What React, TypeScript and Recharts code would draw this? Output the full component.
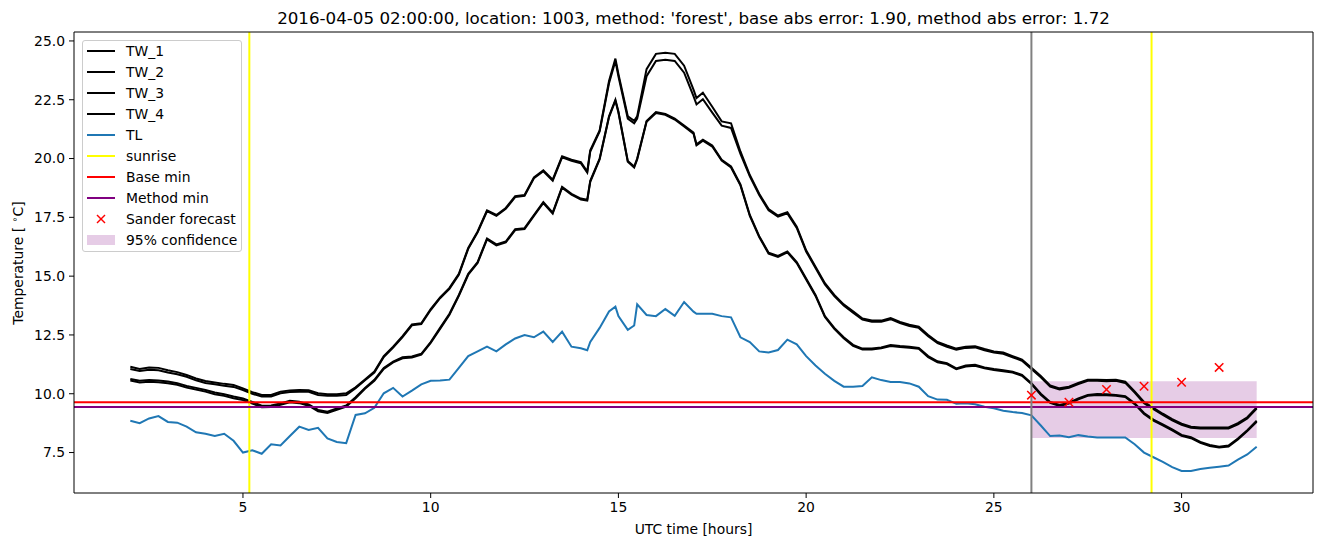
import React from 'react';
import { ComposedChart, Line, Scatter, XAxis, YAxis, ReferenceLine, ReferenceArea } from 'recharts';

const hours = [
  2, 2.25, 2.5, 2.75, 3, 3.25, 3.5, 3.75, 4, 4.25, 4.5, 4.75,
  5, 5.25, 5.5, 5.75, 6, 6.25, 6.5, 6.75, 7, 7.25, 7.5, 7.75,
  8, 8.25, 8.5, 8.75, 9, 9.25, 9.5, 9.75, 10, 10.25, 10.5, 10.75,
  11, 11.25, 11.5, 11.75, 12, 12.25, 12.5, 12.75, 13, 13.25, 13.5, 13.75,
  14, 14.17, 14.25, 14.5, 14.75, 14.92, 15, 15.25, 15.42, 15.5, 15.75,
  16, 16.25, 16.5, 16.75, 17, 17.08, 17.25, 17.5, 17.75,
  18, 18.25, 18.5, 18.75, 19, 19.25, 19.5, 19.75,
  20, 20.25, 20.5, 20.75, 21, 21.25, 21.5, 21.75,
  22, 22.25, 22.5, 22.75, 23, 23.25, 23.5, 23.75,
  24, 24.25, 24.5, 24.75, 25, 25.25, 25.5, 25.75,
  26, 26.25, 26.5, 26.75, 27, 27.25, 27.5, 27.75,
  28, 28.25, 28.5, 28.75, 29, 29.25, 29.5, 29.75,
  30, 30.25, 30.5, 30.75, 31, 31.25, 31.5, 31.75, 32,
];

const tw1 = [
  11.15, 11.05, 11.12, 11.1, 11.0, 10.92, 10.8, 10.65, 10.54, 10.48, 10.42, 10.37,
  10.23, 10.07, 9.95, 9.95, 10.09, 10.14, 10.16, 10.15, 10.02, 9.98, 9.98, 10.02,
  10.27, 10.6, 10.94, 11.6, 12.0, 12.45, 12.95, 13.0, 13.6, 14.1, 14.5, 15.1,
  16.2, 16.9, 17.8, 17.6, 17.9, 18.4, 18.45, 19.2, 19.5, 19.1, 20.1, 19.95,
  19.85, 19.45, 20.35, 21.2, 23.3, 24.25, 23.6, 21.8, 21.6, 21.8, 23.8,
  24.45, 24.5, 24.45, 23.95, 22.93, 22.57, 22.8, 22.2, 21.58,
  21.5, 20.3, 19.3, 18.5, 17.85, 17.58, 17.72, 17.1,
  16.1, 15.4, 14.7, 14.2, 13.8, 13.5, 13.2, 13.11,
  13.11, 13.22, 13.05, 12.93, 12.85, 12.5, 12.2, 12.05,
  11.92, 12.0, 12.02, 11.9, 11.8, 11.75, 11.6, 11.45,
  11.1, 10.75, 10.35, 10.23, 10.3, 10.46, 10.6, 10.6,
  10.58, 10.6, 10.51, 10.1, 9.65, 9.4, 9.15, 8.92,
  8.73, 8.6, 8.57, 8.57, 8.57, 8.57, 8.75, 9.0, 9.42,
];

const tw2 = [
  11.05, 10.97, 11.02, 11.0, 10.9, 10.83, 10.72, 10.57, 10.46, 10.4, 10.34, 10.29,
  10.16, 10.0, 9.88, 9.88, 10.02, 10.07, 10.09, 10.08, 9.95, 9.91, 9.91, 9.95,
  10.24, 10.57, 10.9, 11.56, 11.96, 12.41, 12.91, 12.96, 13.56, 14.06, 14.46, 15.06,
  16.16, 16.86, 17.76, 17.56, 17.86, 18.36, 18.41, 19.16, 19.46, 19.06, 20.05, 19.9,
  19.8, 19.4, 20.3, 21.15, 23.2, 24.15, 23.5, 21.7, 21.5, 21.7, 23.5,
  24.15, 24.2, 24.15, 23.65, 22.65, 22.3, 22.52, 21.95, 21.4,
  21.3, 20.2, 19.24, 18.45, 17.8, 17.53, 17.67, 17.05,
  16.05, 15.35, 14.65, 14.15, 13.75, 13.45, 13.15, 13.06,
  13.06, 13.17, 13.0, 12.88, 12.8, 12.45, 12.15, 12.0,
  11.87, 11.95, 11.97, 11.85, 11.75, 11.7, 11.55, 11.4,
  11.05, 10.7, 10.3, 10.18, 10.25, 10.41, 10.55, 10.55,
  10.53, 10.55, 10.46, 10.05, 9.6, 9.35, 9.1, 8.87,
  8.68, 8.55, 8.52, 8.52, 8.52, 8.52, 8.7, 8.95, 9.37,
];

const tw3 = [
  10.63, 10.55, 10.58, 10.56, 10.52, 10.45, 10.33, 10.25, 10.16, 10.05, 9.98, 9.88,
  9.8, 9.65, 9.49, 9.5, 9.59, 9.7, 9.66, 9.55, 9.31, 9.24, 9.38, 9.5,
  9.85, 10.25, 10.59, 11.1, 11.37, 11.55, 11.58, 11.7, 12.2, 12.8, 13.4, 14.2,
  15.1, 15.6, 16.6, 16.35, 16.47, 17.0, 17.04, 17.6, 18.15, 17.7, 18.8, 18.5,
  18.3, 18.25, 19.05, 20.0, 21.8, 22.5, 22.0, 19.9, 19.66, 20.0, 21.6,
  21.98, 21.9, 21.7, 21.4, 21.1, 20.6, 20.8, 20.55, 19.95,
  19.66, 18.9, 17.6, 16.7, 16.0, 15.86, 16.05, 15.6,
  14.9, 14.2, 13.3, 12.8, 12.4, 12.08, 11.92, 11.92,
  11.97, 12.07, 12.03, 12.0, 11.95, 11.6, 11.38, 11.3,
  11.08, 11.2, 11.23, 11.12, 11.05, 11.0, 10.94, 10.8,
  10.45, 10.0, 9.65, 9.52, 9.62, 9.8, 9.95, 9.99,
  9.98, 9.95, 9.9, 9.6, 9.18, 8.9, 8.7, 8.48,
  8.25, 8.15, 7.95, 7.82, 7.75, 7.8, 8.1, 8.45, 8.85,
];

const tw4 = [
  10.56, 10.48, 10.51, 10.49, 10.45, 10.38, 10.26, 10.18, 10.09, 9.98, 9.91, 9.81,
  9.73, 9.58, 9.43, 9.44, 9.53, 9.64, 9.6, 9.49, 9.25, 9.18, 9.32, 9.45,
  9.81, 10.21, 10.55, 11.06, 11.33, 11.51, 11.54, 11.66, 12.16, 12.76, 13.36, 14.16,
  15.06, 15.56, 16.56, 16.31, 16.43, 16.96, 17.0, 17.56, 18.11, 17.66, 18.76, 18.46,
  18.26, 18.21, 19.01, 19.96, 21.76, 22.46, 21.96, 19.86, 19.62, 19.96, 21.56,
  21.94, 21.86, 21.66, 21.36, 21.06, 20.56, 20.76, 20.51, 19.91,
  19.62, 18.86, 17.56, 16.66, 15.96, 15.82, 16.01, 15.56,
  14.86, 14.16, 13.26, 12.76, 12.36, 12.04, 11.88, 11.88,
  11.93, 12.03, 11.99, 11.96, 11.91, 11.56, 11.34, 11.26,
  11.04, 11.16, 11.19, 11.08, 11.01, 10.96, 10.9, 10.76,
  10.41, 9.96, 9.61, 9.48, 9.58, 9.76, 9.91, 9.95,
  9.94, 9.91, 9.86, 9.56, 9.14, 8.86, 8.66, 8.44,
  8.21, 8.11, 7.91, 7.78, 7.71, 7.76, 8.06, 8.41, 8.81,
];

const tl = [
  8.85, 8.75, 8.95, 9.05, 8.8, 8.77, 8.6, 8.36, 8.3, 8.2, 8.3, 8.0,
  7.5, 7.6, 7.45, 7.85, 7.8, 8.2, 8.6, 8.46, 8.55, 8.1, 7.95, 7.9,
  9.1, 9.17, 9.4, 10.02, 10.25, 9.88, 10.13, 10.4, 10.55, 10.56, 10.6, 11.1,
  11.6, 11.8, 12.0, 11.8, 12.1, 12.35, 12.5, 12.4, 12.64, 12.2, 12.64, 12.0,
  11.93, 11.85, 12.2, 12.8, 13.5, 13.7, 13.3, 12.72, 12.9, 13.8, 13.35,
  13.3, 13.6, 13.31, 13.9, 13.49, 13.4, 13.4, 13.4, 13.3,
  13.25, 12.4, 12.2, 11.8, 11.75, 11.86, 12.3, 12.1,
  11.6, 11.2, 10.85, 10.55, 10.3, 10.3, 10.33, 10.7,
  10.58, 10.5, 10.5, 10.44, 10.3, 9.9, 9.75, 9.74,
  9.57, 9.6, 9.55, 9.45, 9.38, 9.28, 9.22, 9.18,
  9.08, 8.65, 8.2, 8.22, 8.15, 8.24, 8.18, 8.14,
  8.14, 8.14, 8.14, 7.85, 7.5, 7.3, 7.1, 6.88,
  6.72, 6.72, 6.8, 6.85, 6.9, 6.95, 7.2, 7.42, 7.75,
];

const forecastHours = [26, 27, 28, 29, 30, 31];
const forecastValues = [9.94, 9.64, 10.18, 10.32, 10.49, 11.12];

const sunriseHours = [5.17, 29.2];
const forecastStartHour = 26;
const baseMin = 9.64;
const methodMin = 9.44;
const confidenceStart = 26;
const confidenceEnd = 32;
const confidenceLow = 8.12;
const confidenceHigh = 10.53;

const xTicks = [5, 10, 15, 20, 25, 30];
const yTicks = [7.5, 10.0, 12.5, 15.0, 17.5, 20.0, 22.5, 25.0];
const xDomain = [0.5, 33.5];
const yDomain = [5.78, 25.38];

const titleText = "2016-04-05 02:00:00, location: 1003, method: 'forest', base abs error: 1.90, method abs error: 1.72";

const legendItems = [
  { label: 'TW_1', kind: 'line', color: '#000000' },
  { label: 'TW_2', kind: 'line', color: '#000000' },
  { label: 'TW_3', kind: 'line', color: '#000000' },
  { label: 'TW_4', kind: 'line', color: '#000000' },
  { label: 'TL', kind: 'line', color: '#1f77b4' },
  { label: 'sunrise', kind: 'line', color: '#ffff00' },
  { label: 'Base min', kind: 'line', color: '#ff0000' },
  { label: 'Method min', kind: 'line', color: '#800080' },
  { label: 'Sander forecast', kind: 'x', color: '#ff0000' },
  { label: '95% confidence', kind: 'patch', color: 'rgba(128,0,128,0.2)' },
];

const data = hours.map((t, i) => ({ t, tw1: tw1[i], tw2: tw2[i], tw3: tw3[i], tw4: tw4[i], tl: tl[i] }));
const forecastData = forecastHours.map((t, i) => ({ t, f: forecastValues[i] }));

const FONT = '"DejaVu Sans", sans-serif';

const XMark = (props: any) => {
  const { cx, cy } = props;
  const s = 4.2;
  return (
    <g>
      <line x1={cx - s} y1={cy - s} x2={cx + s} y2={cy + s} stroke="#ff0000" strokeWidth={1.5} />
      <line x1={cx - s} y1={cy + s} x2={cx + s} y2={cy - s} stroke="#ff0000" strokeWidth={1.5} />
    </g>
  );
};

const Legend = () => (
  <div
    style={{
      position: 'absolute', left: 82, top: 40, width: 160, height: 212,
      border: '1px solid #cccccc', borderRadius: 3, background: 'rgba(255,255,255,0.8)',
      boxSizing: 'border-box', fontFamily: FONT, fontSize: 13.9, color: '#000',
    }}
  >
    {legendItems.map((it, i) => {
      const cy = 10 + i * 21;
      return (
        <div key={it.label} style={{ position: 'absolute', left: 0, top: cy - 10, height: 20, width: 158 }}>
          <svg width={40} height={20} style={{ position: 'absolute', left: 0, top: 0 }}>
            {it.kind === 'line' && <line x1={4} y1={10} x2={32} y2={10} stroke={it.color} strokeWidth={2} />}
            {it.kind === 'x' && (
              <g>
                <line x1={14} y1={6} x2={22} y2={14} stroke={it.color} strokeWidth={1.5} />
                <line x1={14} y1={14} x2={22} y2={6} stroke={it.color} strokeWidth={1.5} />
              </g>
            )}
            {it.kind === 'patch' && <rect x={4} y={5} width={28} height={10} fill={it.color} />}
          </svg>
          <div style={{ position: 'absolute', left: 43, top: 0, lineHeight: '20px', whiteSpace: 'nowrap' }}>{it.label}</div>
        </div>
      );
    })}
  </div>
);

export default function App() {
  const tickStyle = { fill: '#000', fontSize: 13.9, fontFamily: FONT };
  return (
    <div style={{ position: 'absolute', left: 0, top: 0, width: 1324, height: 547, background: '#fff' }}>
      <ComposedChart width={1324} height={547} data={data} margin={{ top: 32, right: 11, bottom: 24, left: 14 }}>
        <XAxis
          type="number" dataKey="t" domain={xDomain} ticks={xTicks} allowDataOverflow
          tick={tickStyle} tickLine={{ stroke: '#000' }} axisLine={{ stroke: '#000' }}
          tickSize={5} tickMargin={4} height={30} interval={0}
        />
        <YAxis
          type="number" domain={yDomain} ticks={yTicks} allowDataOverflow
          tick={tickStyle} tickLine={{ stroke: '#000' }} axisLine={{ stroke: '#000' }}
          tickSize={5} tickMargin={4} width={60} interval={0}
          tickFormatter={(v: number) => v.toFixed(1)}
        />
        <ReferenceArea x1={confidenceStart} x2={confidenceEnd} y1={confidenceLow} y2={confidenceHigh}
          fill="#800080" fillOpacity={0.2} stroke="none" />
        <Line dataKey="tw1" stroke="#000" strokeWidth={2} dot={false} isAnimationActive={false} type="linear" />
        <Line dataKey="tw2" stroke="#000" strokeWidth={2} dot={false} isAnimationActive={false} type="linear" />
        <Line dataKey="tw3" stroke="#000" strokeWidth={2} dot={false} isAnimationActive={false} type="linear" />
        <Line dataKey="tw4" stroke="#000" strokeWidth={2} dot={false} isAnimationActive={false} type="linear" />
        <Line dataKey="tl" stroke="#1f77b4" strokeWidth={2} dot={false} isAnimationActive={false} type="linear" />
        {sunriseHours.map((h) => (
          <ReferenceLine key={h} x={h} stroke="#ffff00" strokeWidth={2} />
        ))}
        <ReferenceLine y={baseMin} stroke="#ff0000" strokeWidth={2} />
        <ReferenceLine y={methodMin} stroke="#800080" strokeWidth={2} />
        <ReferenceLine x={forecastStartHour} stroke="#808080" strokeWidth={2} />
        <ReferenceLine x={xDomain[1]} stroke="#000" strokeWidth={1} />
        <ReferenceLine y={yDomain[1]} stroke="#000" strokeWidth={1} />
        <Scatter data={forecastData} dataKey="f" shape={XMark} isAnimationActive={false} />
      </ComposedChart>
      <div style={{ position: 'absolute', left: 74, width: 1239, top: 7, lineHeight: '22px', textAlign: 'center', fontFamily: FONT, fontSize: 16.7, color: '#000', whiteSpace: 'nowrap' }}>
        {titleText}
      </div>
      <div style={{ position: 'absolute', left: 74, width: 1239, top: 520, lineHeight: '18px', textAlign: 'center', fontFamily: FONT, fontSize: 13.9, color: '#000' }}>
        UTC time [hours]
      </div>
      <div style={{ position: 'absolute', left: 18, top: 263, width: 0, height: 0 }}>
        <div style={{ position: 'absolute', transform: 'translate(-50%, -50%) rotate(-90deg)', whiteSpace: 'nowrap', fontFamily: FONT, fontSize: 13.9, color: '#000', lineHeight: '18px' }}>
          Temperature [ <sup style={{ fontSize: 9.5, verticalAlign: 'top', position: 'relative', top: -3 }}>∘</sup>C]
        </div>
      </div>
      <Legend />
    </div>
  );
}
